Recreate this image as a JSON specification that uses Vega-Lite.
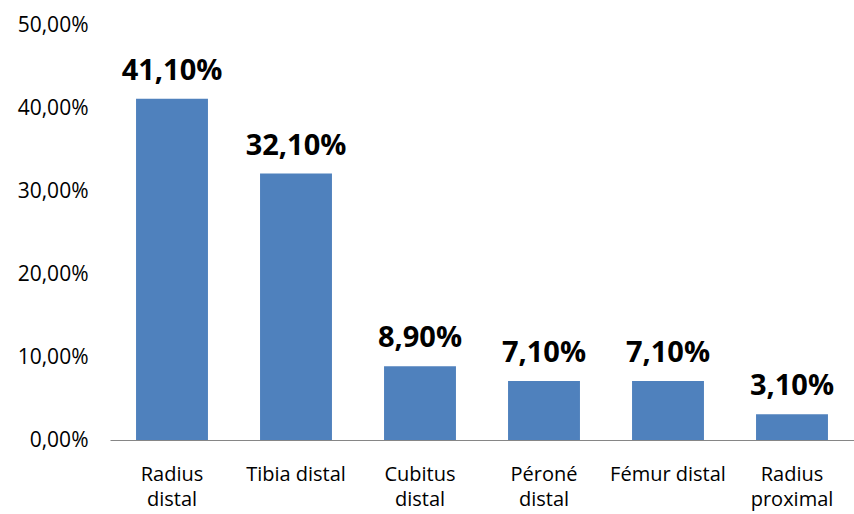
{
  "$schema": "https://vega.github.io/schema/vega-lite/v6.json",
  "autosize": "none",
  "padding": {"left": 110, "top": 25, "right": 0, "bottom": 74},
  "width": 744,
  "height": 415,
  "background": "white",
  "config": {
    "view": {"stroke": null},
    "locale": {"number": {"decimal": ",", "thousands": ".", "grouping": [3], "currency": ["", " €"]}},
    "font": "Open Sans"
  },
  "data": {
    "values": [
      {"site": "Radius distal", "value": 0.411},
      {"site": "Tibia distal", "value": 0.321},
      {"site": "Cubitus distal", "value": 0.089},
      {"site": "Péroné distal", "value": 0.071},
      {"site": "Fémur distal", "value": 0.071},
      {"site": "Radius proximal", "value": 0.031}
    ]
  },
  "encoding": {
    "x": {
      "field": "site", "type": "nominal", "sort": null,
      "scale": {"paddingInner": 0.42, "paddingOuter": 0.21},
      "axis": {
        "title": null, "labelAngle": 0, "ticks": false, "domainColor": "#868686", "domainWidth": 1,
        "labelFontSize": 20, "labelColor": "#000000", "labelPadding": 40, "labelLineHeight": 25,
        "labelFont": "Open Sans", "labelBaseline": "alphabetic", "labelFontWeight": "normal",
        "labelExpr": "datum.value == 'Tibia distal' || datum.value == 'Fémur distal' ? datum.value : split(datum.value, ' ')"
      }
    },
    "y": {
      "field": "value", "type": "quantitative",
      "scale": {"domain": [0, 0.5], "nice": false},
      "axis": {
        "title": null, "values": [0, 0.1, 0.2, 0.3, 0.4, 0.5], "format": ".2%",
        "grid": false, "domain": false, "ticks": false, "labelPadding": 22,
        "labelFontSize": 21, "labelColor": "#000000", "labelFont": "Open Sans", "labelFontWeight": "normal"
      }
    }
  },
  "layer": [
    {"mark": {"type": "bar", "color": "#4F81BD"}},
    {
      "mark": {"type": "text", "baseline": "alphabetic", "dy": -19, "fontSize": 29, "fontWeight": "bold", "color": "#000000", "font": "Open Sans"},
      "encoding": {"text": {"field": "value", "type": "quantitative", "format": ".2%"}}
    }
  ]
}
